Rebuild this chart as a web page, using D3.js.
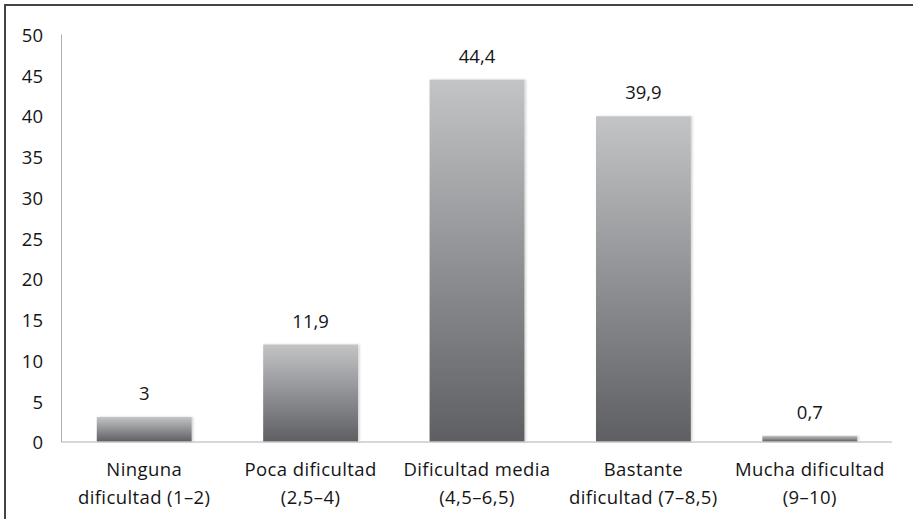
<!DOCTYPE html>
<html>

<head>
    <meta charset="utf-8">
    <title>Dificultad</title>
    <script src="https://d3js.org/d3.v7.min.js"></script>
    <style>
        body { margin: 0; background: #fff; }
        text { font-family: "Open Sans", "Noto Sans", sans-serif; fill: #151515; }
    </style>
</head>

<body>
    <script type="text/javascript">
        // data
        let categories = [
            ["Ninguna", "dificultad (1–2)"],
            ["Poca dificultad", "(2,5–4)"],
            ["Dificultad media", "(4,5–6,5)"],
            ["Bastante", "dificultad (7–8,5)"],
            ["Mucha dificultad", "(9–10)"]
        ];
        let values = [3, 11.9, 44.4, 39.9, 0.7];
        let valueLabels = ["3", "11,9", "44,4", "39,9", "0,7"];
        let yTicks = [0, 5, 10, 15, 20, 25, 30, 35, 40, 45, 50];

        let width = 913, height = 519;
        let fontSize = 18.5;

        let svg = d3.select("body").append("svg")
            .attr("width", width)
            .attr("height", height);

        let defs = svg.append("defs");
        let grad = defs.append("linearGradient")
            .attr("id", "barGrad")
            .attr("x1", 0).attr("y1", 0).attr("x2", 0).attr("y2", 1);
        grad.append("stop").attr("offset", "0%").attr("stop-color", "#c3c4c6");
        grad.append("stop").attr("offset", "100%").attr("stop-color", "#5e5f63");

        let shadow = defs.append("filter").attr("id", "shadow")
            .attr("x", "-10%").attr("y", "-10%").attr("width", "130%").attr("height", "130%");
        shadow.append("feDropShadow")
            .attr("dx", 1.5).attr("dy", 0).attr("stdDeviation", 1.2)
            .attr("flood-color", "#000").attr("flood-opacity", 0.18);

        // frame (only top and left are visible in the picture)
        svg.append("rect")
            .attr("x", 5).attr("y", 5)
            .attr("width", 1000).attr("height", 1000)
            .attr("fill", "none")
            .attr("stroke", "#444")
            .attr("stroke-width", 2);

        let x = d3.scaleBand()
            .domain(d3.range(values.length))
            .range([61, 893])
            .paddingInner(0.43)
            .paddingOuter(0.215);

        let y = d3.scaleLinear()
            .domain([0, 50])
            .range([441.5, 34]);

        // y axis
        let yAxis = svg.append("g")
            .attr("transform", "translate(61,0)")
            .call(d3.axisLeft(y).tickValues(yTicks).tickSize(0).tickPadding(18));
        yAxis.select(".domain").attr("stroke", "#b0b0b0");
        yAxis.selectAll(".tick text")
            .attr("font-size", fontSize)
            .attr("fill", "#151515")
            .attr("dy", "0.4em");

        // bars
        svg.append("g").selectAll("rect")
            .data(values)
            .join("rect")
            .attr("x", (d, i) => x(i))
            .attr("y", d => y(d))
            .attr("width", x.bandwidth())
            .attr("height", d => y(0) - y(d))
            .attr("fill", "url(#barGrad)")
            .attr("filter", "url(#shadow)");

        // x axis line
        svg.append("line")
            .attr("x1", 61).attr("x2", 892)
            .attr("y1", y(0) + 0.5).attr("y2", y(0) + 0.5)
            .attr("stroke", "#b0b0b0")
            .attr("stroke-width", 1);

        // value labels
        svg.append("g").selectAll("text")
            .data(values)
            .join("text")
            .attr("x", (d, i) => x(i) + x.bandwidth() / 2)
            .attr("y", d => y(d) - 17)
            .attr("text-anchor", "middle")
            .attr("font-size", fontSize)
            .text((d, i) => valueLabels[i]);

        // category labels
        let cat = svg.append("g").selectAll("text")
            .data(categories)
            .join("text")
            .attr("x", (d, i) => x(i) + x.bandwidth() / 2)
            .attr("y", 476)
            .attr("text-anchor", "middle")
            .attr("font-size", fontSize)
            .attr("letter-spacing", 0.4);
        cat.each(function (d) {
            let t = d3.select(this);
            d.forEach((line, j) => {
                t.append("tspan")
                    .attr("x", t.attr("x"))
                    .attr("dy", j === 0 ? 0 : 28)
                    .text(line);
            });
        });
    </script>
</body>

</html>
